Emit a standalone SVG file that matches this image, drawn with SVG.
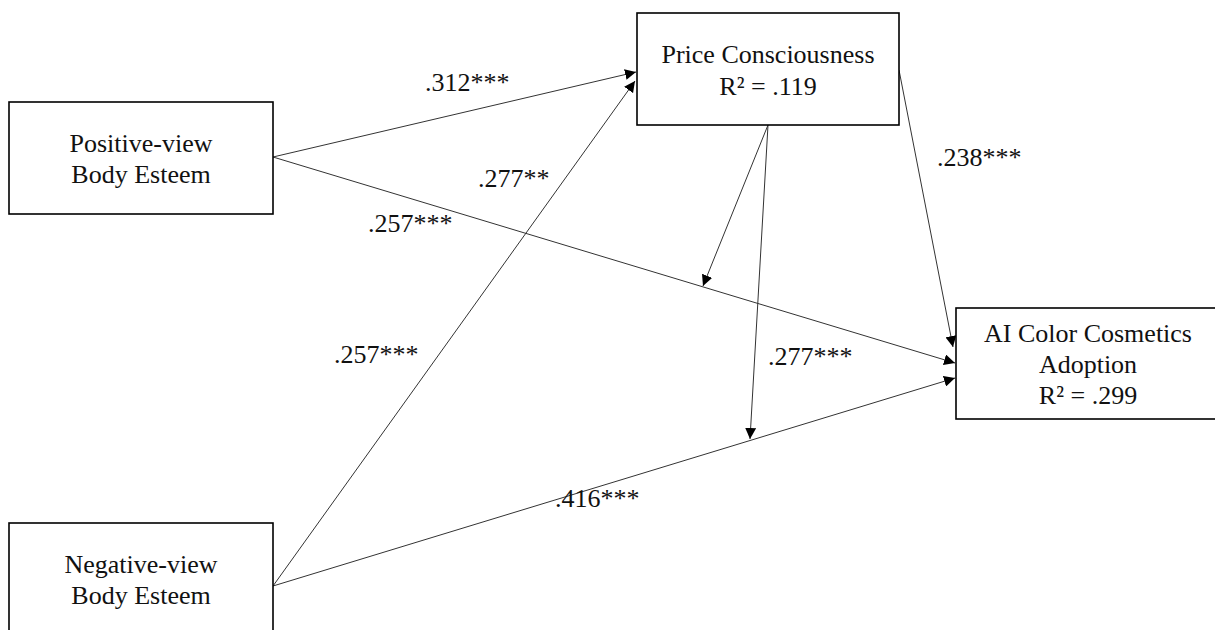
<svg xmlns="http://www.w3.org/2000/svg" width="1215" height="630" viewBox="0 0 1215 630">
<style>
.box{fill:#fff;stroke:#000;stroke-width:1.6}
.t{font-family:"Liberation Serif","Times New Roman",serif;font-size:26px;fill:#111;text-anchor:middle}
.l{font-family:"Liberation Serif","Times New Roman",serif;font-size:26px;fill:#111}
.c{stroke:#333;stroke-width:1;fill:none;marker-end:url(#ah)}
</style>
<defs>
<marker id="ah" viewBox="0 0 10 10" refX="10" refY="5" markerWidth="11" markerHeight="11" markerUnits="userSpaceOnUse" orient="auto">
<path d="M0,0 L10,5 L0,10 z" fill="#000"/>
</marker>
</defs>
<rect width="1215" height="630" fill="#fff"/>
<g id="connectors">
<line class="c" x1="273" y1="157" x2="636" y2="72"/>
<line class="c" x1="273" y1="586" x2="635" y2="81"/>
<line class="c" x1="273" y1="157" x2="955" y2="363"/>
<line class="c" x1="273" y1="586" x2="955" y2="378"/>
<line class="c" x1="899" y1="70" x2="953" y2="347"/>
<line class="c" x1="768" y1="125" x2="703" y2="286"/>
<line class="c" x1="768" y1="125" x2="750" y2="439"/>
</g>
<g id="labels">
<text class="l" x="425" y="91">.312***</text>
<text class="l" x="478" y="187">.277**</text>
<text class="l" x="937" y="166">.238***</text>
<text class="l" x="368" y="232">.257***</text>
<text class="l" x="334" y="363">.257***</text>
<text class="l" x="768" y="365">.277***</text>
<text class="l" x="555" y="507">.416***</text>
</g>
<g id="positive">
<rect class="box" x="9" y="102" width="264" height="112"/>
<text class="t" x="141" y="152">Positive-view</text>
<text class="t" x="141" y="183">Body Esteem</text>
</g>
<g id="price">
<rect class="box" x="637" y="13" width="262" height="112"/>
<text class="t" x="768" y="63">Price Consciousness</text>
<text class="t" x="768" y="95">R² = .119</text>
</g>
<g id="adoption">
<rect class="box" x="956" y="308" width="266" height="111"/>
<text class="t" x="1088" y="342">AI Color Cosmetics</text>
<text class="t" x="1088" y="373">Adoption</text>
<text class="t" x="1088" y="404">R² = .299</text>
</g>
<g id="negative">
<rect class="box" x="9" y="523" width="264" height="120"/>
<text class="t" x="141" y="573">Negative-view</text>
<text class="t" x="141" y="604">Body Esteem</text>
</g>
</svg>
